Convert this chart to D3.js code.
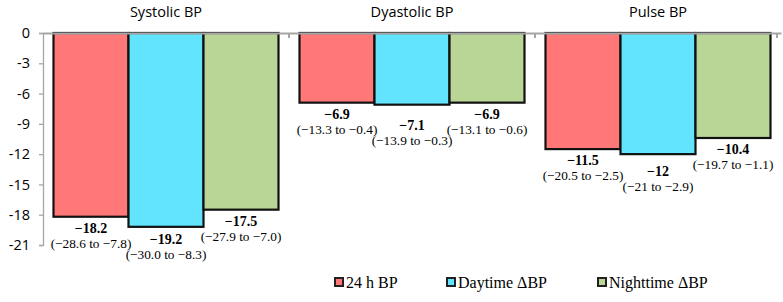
<!DOCTYPE html>
<html>
<head>
<meta charset="utf-8">
<script src="https://cdn.jsdelivr.net/npm/d3@7"></script>
<style>
  body { margin: 0; background: #fff; }
</style>
</head>
<body>
<script>
// chart data
var groups = ['Systolic BP', 'Dyastolic BP', 'Pulse BP'];
var series = ['24 h BP', 'Daytime \u0394BP', 'Nighttime \u0394BP'];
var values = [
    [-18.2, -19.2, -17.5],
    [-6.9, -7.1, -6.9],
    [-11.5, -12, -10.4]
];
var valueLabels = [
    ['\u221218.2', '\u221219.2', '\u221217.5'],
    ['\u22126.9', '\u22127.1', '\u22126.9'],
    ['\u221211.5', '\u221212', '\u221210.4']
];
var ciLabels = [
    ['(\u221228.6 to \u22127.8)', '(\u221230.0 to \u22128.3)', '(\u221227.9 to \u22127.0)'],
    ['(\u221213.3 to \u22120.4)', '(\u221213.9 to \u22120.3)', '(\u221213.1 to \u22120.6)'],
    ['(\u221220.5 to \u22122.5)', '(\u221221 to \u22122.9)', '(\u221219.7 to \u22121.1)']
];
var yTicks = [0, -3, -6, -9, -12, -15, -18, -21];
var colors = ['#FF7777', '#62E3FE', '#BAD696'];

var width = 783, height = 302;
var svg = d3.select('body').append('svg').attr('width', width).attr('height', height);

var x0 = d3.scaleBand().domain(groups).range([43, 781]).paddingInner(0).paddingOuter(0);
var x1 = d3.scaleBand().domain(series).range([0, x0.bandwidth()]).paddingOuter(0.14).paddingInner(0);
var y = d3.scaleLinear().domain([0, -21]).range([33, 245]);

// y axis
var yAxis = svg.append('g')
    .attr('transform', 'translate(43,0)')
    .call(d3.axisLeft(y).tickValues(yTicks).tickSize(4).tickPadding(9).tickFormat(d3.format('d')));
yAxis.selectAll('path, line').attr('stroke', '#a6a6a6').attr('stroke-width', 1.3);
yAxis.selectAll('text')
    .attr('font-family', 'Open Sans, Noto Sans, sans-serif')
    .attr('font-size', 14.5)
    .attr('fill', '#000')
    .text(function (d) { return d === 0 ? '0' : '-' + Math.abs(d); });

// bars
var g = svg.selectAll('g.group')
    .data(groups)
    .enter().append('g')
    .attr('class', 'group')
    .attr('transform', function (d) { return 'translate(' + x0(d) + ',0)'; });

function rows(d, i) {
    return values[i].map(function (v, j) { return { gi: i, si: j, v: v }; });
}

g.selectAll('rect')
    .data(rows)
    .enter().append('rect')
    .attr('x', function (d) { return x1(series[d.si]); })
    .attr('y', y(0))
    .attr('width', x1.bandwidth())
    .attr('height', function (d) { return y(d.v) - y(0); })
    .attr('fill', function (d) { return colors[d.si]; })
    .attr('stroke', '#111')
    .attr('stroke-width', 2.2);

// label baseline: 16px below the bar end, middle label pushed down to clear its neighbours
function labelY(d) {
    var own = y(d.v) + 16;
    if (d.si !== 1) return own;
    var vals = values[d.gi];
    var neighbour = Math.max(y(vals[0]), y(vals[2])) + 16;
    return Math.max(own, neighbour + 11);
}

g.selectAll('text.val')
    .data(rows)
    .enter().append('text')
    .attr('class', 'val')
    .attr('x', function (d) { return x1(series[d.si]) + x1.bandwidth() / 2; })
    .attr('y', labelY)
    .attr('text-anchor', 'middle')
    .attr('font-family', 'Liberation Serif, Times New Roman, serif')
    .attr('font-weight', 'bold')
    .attr('font-size', 14)
    .text(function (d) { return valueLabels[d.gi][d.si]; });

g.selectAll('text.ci')
    .data(rows)
    .enter().append('text')
    .attr('class', 'ci')
    .attr('x', function (d) { return x1(series[d.si]) + x1.bandwidth() / 2; })
    .attr('y', function (d) { return labelY(d) + 15; })
    .attr('text-anchor', 'middle')
    .attr('font-family', 'Liberation Serif, Times New Roman, serif')
    .attr('font-size', 13.3)
    .text(function (d) { return ciLabels[d.gi][d.si]; });

// top axis line with group ticks
var xAxis = svg.append('g')
    .attr('transform', 'translate(0,' + y(0) + ')')
    .call(d3.axisBottom(x0).tickSize(0).tickFormat(''));
xAxis.select('path').attr('stroke', '#a6a6a6').attr('stroke-width', 2);
xAxis.selectAll('.tick').remove();
xAxis.selectAll('line.sep')
    .data([x0(groups[1]), x0(groups[2]), x0.range()[1] - 4])
    .enter().append('line')
    .attr('class', 'sep')
    .attr('x1', function (d) { return d; })
    .attr('x2', function (d) { return d; })
    .attr('y1', 0).attr('y2', 5)
    .attr('stroke', '#a6a6a6').attr('stroke-width', 2);

// group titles
svg.selectAll('text.title')
    .data(groups)
    .enter().append('text')
    .attr('class', 'title')
    .attr('x', function (d) { return x0(d) + x0.bandwidth() / 2; })
    .attr('y', 17)
    .attr('text-anchor', 'middle')
    .attr('font-family', 'Open Sans, Noto Sans, sans-serif')
    .attr('font-size', 14.5)
    .text(function (d) { return d; });

// legend
var legendX = [334, 446, 597];
var legend = svg.selectAll('g.legend')
    .data(series)
    .enter().append('g')
    .attr('class', 'legend')
    .attr('transform', function (d, i) { return 'translate(' + legendX[i] + ',283)'; });
legend.append('rect')
    .attr('x', 1).attr('y', -5)
    .attr('width', 8).attr('height', 8)
    .attr('fill', function (d, i) { return colors[i]; })
    .attr('stroke', '#222').attr('stroke-width', 2);
legend.append('text')
    .attr('x', 12).attr('y', 5)
    .attr('font-family', 'Liberation Serif, Times New Roman, serif')
    .attr('font-size', 16)
    .text(function (d) { return d; });
</script>
</body>
</html>
